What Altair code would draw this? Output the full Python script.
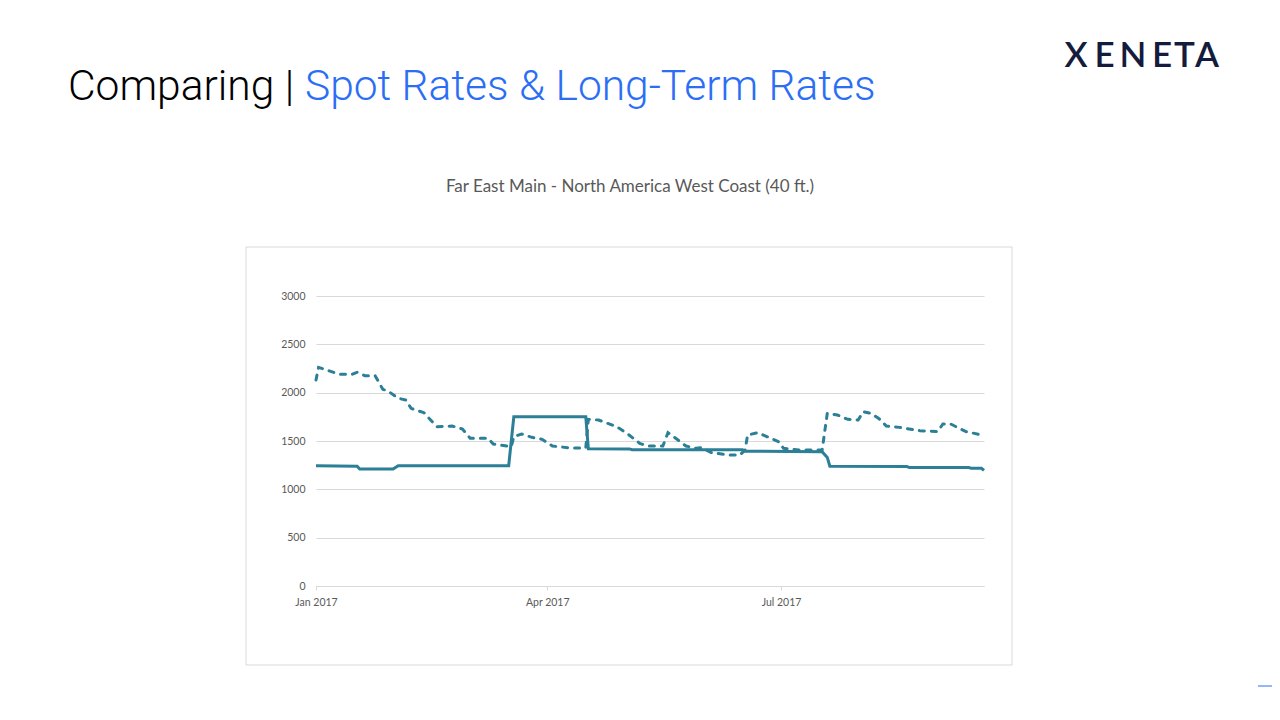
import altair as alt
import pandas as pd

# ---- data ----
spot_dates = [
    "2017-01-01", "2017-01-02", "2017-01-06", "2017-01-10", "2017-01-15", "2017-01-17",
    "2017-01-20", "2017-01-24", "2017-01-27", "2017-01-29", "2017-02-02", "2017-02-05",
    "2017-02-07", "2017-02-12", "2017-02-17", "2017-02-23", "2017-02-27", "2017-03-02",
    "2017-03-09", "2017-03-11", "2017-03-18", "2017-03-19", "2017-03-22", "2017-03-26",
    "2017-03-30", "2017-04-03", "2017-04-10", "2017-04-16", "2017-04-17", "2017-04-21",
    "2017-04-28", "2017-05-02", "2017-05-07", "2017-05-10", "2017-05-16", "2017-05-18",
    "2017-05-21", "2017-05-25", "2017-05-29", "2017-05-31", "2017-06-04", "2017-06-11",
    "2017-06-15", "2017-06-17", "2017-06-18", "2017-06-22", "2017-06-28", "2017-06-30",
    "2017-07-02", "2017-07-08", "2017-07-17", "2017-07-19", "2017-07-23", "2017-07-27",
    "2017-07-31", "2017-08-02", "2017-08-05", "2017-08-08", "2017-08-11", "2017-08-16",
    "2017-08-24", "2017-08-31", "2017-09-02", "2017-09-05", "2017-09-11", "2017-09-16",
    "2017-09-18",
]
spot_values = [
    2131, 2262, 2227, 2190, 2190, 2211,
    2176, 2176, 2035, 2017, 1942, 1924,
    1838, 1793, 1648, 1655, 1624, 1528,
    1528, 1469, 1441, 1545, 1572, 1538,
    1517, 1448, 1428, 1428, 1724, 1717,
    1648, 1579, 1476, 1448, 1448, 1586,
    1528, 1448, 1424, 1431, 1379, 1355,
    1355, 1407, 1562, 1586, 1517, 1493,
    1424, 1407, 1407, 1786, 1769, 1724,
    1717, 1803, 1786, 1734, 1655, 1641,
    1607, 1597, 1676, 1676, 1597, 1569,
    1545,
]

lt_dates = [
    "2017-01-01", "2017-01-17", "2017-01-18", "2017-01-31", "2017-02-02", "2017-03-17",
    "2017-03-19", "2017-04-16", "2017-04-17", "2017-05-03", "2017-05-04", "2017-06-16",
    "2017-06-17", "2017-07-17", "2017-07-19", "2017-07-20", "2017-08-19", "2017-08-20",
    "2017-09-12", "2017-09-13", "2017-09-17", "2017-09-18",
]
lt_values = [
    1245, 1240, 1210, 1210, 1245, 1245,
    1752, 1752, 1420, 1418, 1410, 1410,
    1395, 1390, 1330, 1240, 1235, 1225,
    1225, 1218, 1218, 1195,
]

y_ticks = [0, 500, 1000, 1500, 2000, 2500, 3000]

title_black = "Comparing |"
title_blue = "Spot Rates & Long-Term Rates"
chart_title = "Far East Main - North America West Coast (40 ft.)"
logo_letters = ["X", "E", "N", "E", "T", "A"]
logo_centers = [760, 788.5, 817, 846, 868.5, 891]  # layout (plot-area px)

LINE = "#2b7f96"
BLUE = "#2b6ef5"


def to_local(d):
    return d.replace("-", "/")


spot = pd.DataFrame({"date": [to_local(d) for d in spot_dates], "value": spot_values})
lt = pd.DataFrame({"date": [to_local(d) for d in lt_dates], "value": lt_values})

x_scale = alt.Scale(domain=[alt.DateTime(year=2017, month=1, date=1),
                            alt.DateTime(year=2017, month=9, date=18)], nice=False)
y_scale = alt.Scale(domain=[0, 3000], nice=False)

x_axis = alt.Axis(
    title=None,
    values=[alt.DateTime(year=2017, month=1, date=1),
            alt.DateTime(year=2017, month=4, date=1),
            alt.DateTime(year=2017, month=7, date=1)],
    format="%b %Y",
    grid=False,
    domainColor="#d9d9d9",
    tickColor="#d9d9d9",
    tickSize=4,
    labelFlush=False,
    labelFont="Lato",
    labelFontSize=10.5,
    labelColor="#595959",
    labelPadding=7,
)
y_axis = alt.Axis(
    title=None,
    values=y_ticks,
    format="d",
    grid=True,
    gridColor="#d9d9d9",
    domain=False,
    ticks=False,
    labelFont="Lato",
    labelFontSize=10.5,
    labelColor="#595959",
    labelPadding=11,
)

spot_line = alt.Chart(spot).mark_line(
    color=LINE, strokeWidth=3, strokeDash=[5, 7], strokeCap="round"
).encode(
    x=alt.X("date:T", scale=x_scale, axis=x_axis),
    y=alt.Y("value:Q", scale=y_scale, axis=y_axis),
)

lt_line = alt.Chart(lt).mark_line(color=LINE, strokeWidth=3).encode(
    x=alt.X("date:T", scale=x_scale),
    y=alt.Y("value:Q", scale=y_scale),
)

one = pd.DataFrame({"k": [0]})

frame = alt.Chart(one).mark_rect(
    fillOpacity=0, stroke="#d9d9d9", strokeWidth=1
).encode(x=alt.value(-70), x2=alt.value(696), y=alt.value(-49), y2=alt.value(369))

t_black = alt.Chart(pd.DataFrame({"t": [title_black]})).mark_text(
    font="Roboto", fontSize=42.5, fontWeight=300, color="#000000",
    align="left", baseline="alphabetic"
).encode(text="t:N", x=alt.value(-248), y=alt.value(-196))

t_blue = alt.Chart(pd.DataFrame({"t": [title_blue]})).mark_text(
    font="Roboto", fontSize=42.5, fontWeight=300, color=BLUE,
    align="left", baseline="alphabetic"
).encode(text="t:N", x=alt.value(-11), y=alt.value(-196))

sub = alt.Chart(pd.DataFrame({"t": [chart_title]})).mark_text(
    font="Lato", fontSize=17, color="#595959",
    align="center", baseline="alphabetic"
).encode(text="t:N", x=alt.value(314), y=alt.value(-104))

logo_layers = [
    alt.Chart(pd.DataFrame({"t": [ch]})).mark_text(
        font="Lato", fontSize=35, fontWeight=600, color="#141b3c",
        align="center", baseline="alphabetic"
    ).encode(text="t:N", x=alt.value(cx), y=alt.value(-229))
    for ch, cx in zip(logo_letters, logo_centers)
]

corner = alt.Chart(one).mark_rule(color=BLUE, strokeWidth=1).encode(
    x=alt.value(942), x2=alt.value(960), y=alt.value(390)
)

chart = alt.layer(
    frame, spot_line, lt_line, t_black, t_blue, sub, *logo_layers, corner
).properties(
    width=668,
    height=290,
    autosize=alt.AutoSizeParams(type="none"),
    padding={"left": 308, "top": 288, "right": 288, "bottom": 126},
    background="#ffffff",
).configure_view(stroke=None)

chart.save("out.html", embed_options={"renderer": "svg", "actions": False})
